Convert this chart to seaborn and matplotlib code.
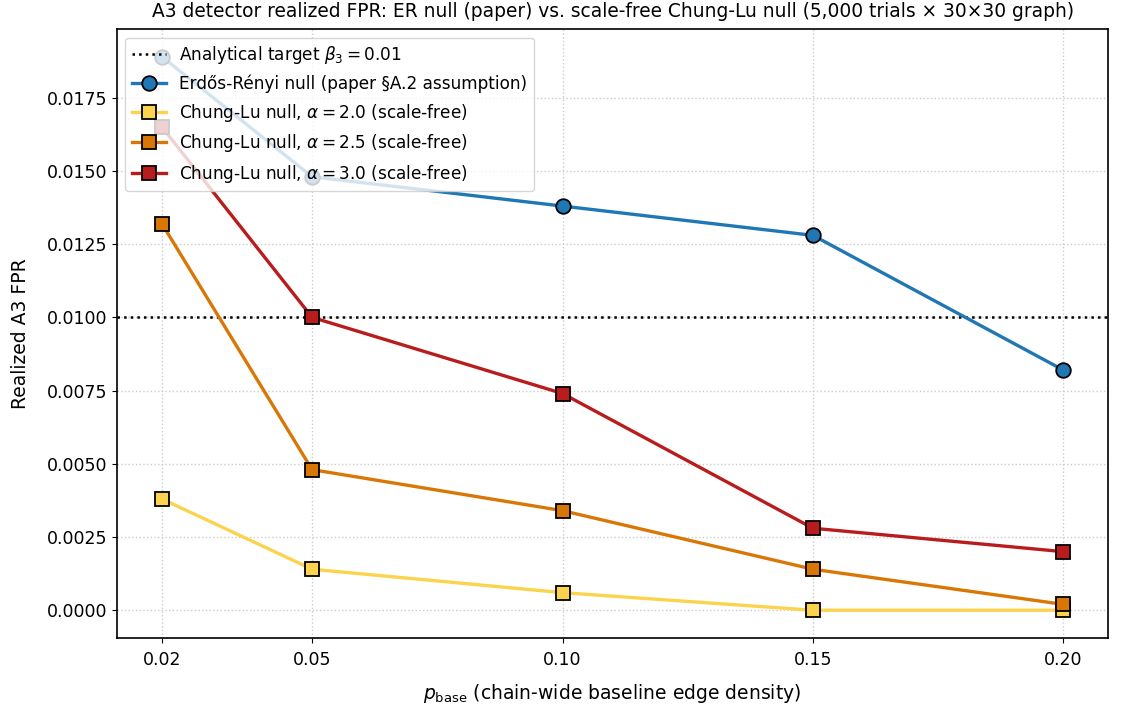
import pandas as pd
import seaborn as sns
import matplotlib.pyplot as plt

# Data
p_base = [0.02, 0.05, 0.10, 0.15, 0.20]
fpr_er = [0.0189, 0.0148, 0.0138, 0.0128, 0.0082]
fpr_cl_20 = [0.0038, 0.0014, 0.0006, 0.0000, 0.0000]
fpr_cl_25 = [0.0132, 0.0048, 0.0034, 0.0014, 0.0002]
fpr_cl_30 = [0.0165, 0.0100, 0.0074, 0.0028, 0.0020]
target = 0.01

series = [
    ("Erdős-Rényi null (paper §A.2 assumption)", fpr_er, "#1f77b4", "o"),
    (r"Chung-Lu null, $\alpha = 2.0$ (scale-free)", fpr_cl_20, "#fcd34d", "s"),
    (r"Chung-Lu null, $\alpha = 2.5$ (scale-free)", fpr_cl_25, "#d97706", "s"),
    (r"Chung-Lu null, $\alpha = 3.0$ (scale-free)", fpr_cl_30, "#b91c1c", "s"),
]

fig, ax = plt.subplots(figsize=(11.23, 7.08), dpi=100)

ax.axhline(target, color="black", linestyle=":", linewidth=1.8,
           label=r"Analytical target $\beta_3 = 0.01$")

for name, vals, color, marker in series:
    df = pd.DataFrame({"p": p_base, "fpr": vals})
    sns.lineplot(data=df, x="p", y="fpr", ax=ax, color=color, marker=marker,
                 markersize=10.5, markeredgecolor="black", markeredgewidth=1.3,
                 linewidth=2.4, label=name)

ax.set_xticks(p_base)
ax.set_xticklabels([f"{p:.2f}" for p in p_base])
ax.grid(True, linestyle=":", color="#cccccc", linewidth=1)
ax.set_axisbelow(True)
ax.tick_params(labelsize=12.5)
ax.tick_params(axis="x", pad=6)
for s in ax.spines.values():
    s.set_linewidth(1.2)
ax.set_xlabel(r"$p_{\mathrm{base}}$ (chain-wide baseline edge density)", fontsize=13.5, labelpad=9)
ax.set_ylabel("Realized A3 FPR", fontsize=13.5, labelpad=12)
ax.set_title("A3 detector realized FPR: ER null (paper) vs. scale-free Chung-Lu null "
             "(5,000 trials × 30×30 graph)", fontsize=13.4, pad=9)
ax.legend(loc="upper left", fontsize=12.2)

plt.subplots_adjust(left=0.104, right=0.987, top=0.959, bottom=0.099)
plt.savefig("out.png", dpi=100)
